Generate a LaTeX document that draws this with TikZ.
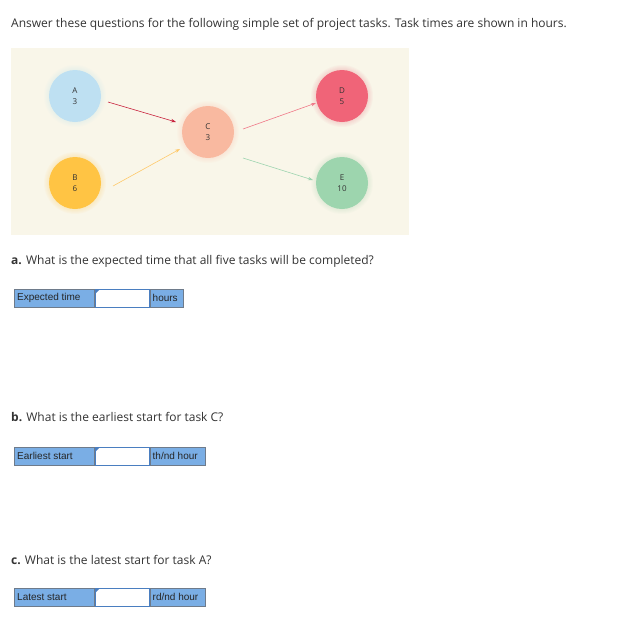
\documentclass[tikz,border=0pt]{standalone}
\usepackage{fontspec}
\setmainfont{Open Sans}
\newfontfamily\boxfont{Liberation Sans}
\usetikzlibrary{arrows.meta,calc}
\definecolor{panelbg}{HTML}{F9F6E9}
\definecolor{cA}{HTML}{BEE0F2}
\definecolor{cB}{HTML}{FFC444}
\definecolor{cC}{HTML}{F9B9A0}
\definecolor{cD}{HTML}{F06478}
\definecolor{cE}{HTML}{9DD5AE}
\definecolor{aAC}{HTML}{C8203C}
\definecolor{aBC}{HTML}{FFC96A}
\definecolor{aCD}{HTML}{F07888}
\definecolor{aCE}{HTML}{9ED4B0}
\definecolor{lblfill}{HTML}{7AAEE5}
\definecolor{lblborder}{HTML}{6E7B8B}
\definecolor{inborder}{HTML}{4A7EC0}
\definecolor{txt}{HTML}{333333}
\tikzset{
  task/.style={circle, minimum size=52pt, inner sep=0pt, fill=#1, text=black!80, font=\fontsize{8}{11}\selectfont, align=center},
  conn/.style={draw=#1, line width=0.6pt, -{Stealth[length=5pt,width=3.5pt]}},
  boxtext/.style={anchor=west, inner sep=0pt, font=\boxfont\fontsize{10}{11}\selectfont, text=black!85},
  lblbox/.style={draw=lblborder, fill=lblfill, line width=0.8pt},
  inbox/.style={draw=inborder, fill=white, line width=0.8pt},
  qtext/.style={anchor=west, inner sep=0pt, font=\fontsize{12}{14}\selectfont, text=txt}
}
\newcommand{\answerrow}[5]{% y, label, unit, unit right x, name
  \path[lblbox] (14,#1) rectangle (94,#1+18);
  \node[boxtext] (#5l) at (17,#1+9) {#2};
  \path[inbox] (95,#1) rectangle (149,#1+18);
  \fill[inborder] (96,#1+1) -- (99,#1+1) -- (96,#1+4) -- cycle;
  \path[lblbox] (150,#1) rectangle (#4,#1+18);
  \node[boxtext] (#5u) at (152.5,#1+9) {#3};
}
\begin{document}
\begin{tikzpicture}[x=1pt,y=-1pt]
\useasboundingbox (0,0) rectangle (631,622);
\fill[white] (0,0) rectangle (631,622);
% title
\node[qtext] (title) at (11,24) {Answer these questions for the following simple set of project tasks. Task times are shown in hours.};
% panel
\fill[panelbg] (11,48) rectangle (409,235);
% glows
\foreach \x/\y/\c in {75/96/cA,75/183/cB,208/132/cC,342/96/cD,342/183/cE}{
  \foreach \k in {1,...,5}{
    \fill[\c, opacity=0.045] (\x,\y) circle (26pt+\k pt);
  }
}
\node[task=cA] (A) at (75,96) {A\\3};
\node[task=cB] (B) at (75,183) {B\\6};
\node[task=cC] (C) at (208,132) {C\\3};
\node[task=cD] (D) at (342,96) {D\\5};
\node[task=cE] (E) at (342,183) {E\\10};
\draw[conn=aAC] ($(A)+(33,6)$) -- ($(C)+(-32,-10)$);
\draw[conn=aBC] ($(B)+(38,3)$) -- ($(C)+(-28,17)$);
\draw[conn=aCD] ($(C)+(35,-3)$) -- ($(D)+(-26,7)$);
\draw[conn=aCE] ($(C)+(35,26)$) -- ($(E)+(-29,-3)$);
% questions
\node[qtext] (qa) at (11,261) {\textbf{a.} What is the expected time that all five tasks will be completed?};
\answerrow{289}{Expected time}{hours}{183}{ra}
\node[qtext] (qb) at (11,417) {\textbf{b.} What is the earliest start for task C?};
\answerrow{447}{Earliest start}{th/nd hour}{205}{rb}
\node[qtext] (qc) at (11,560) {\textbf{c.} What is the latest start for task A?};
\answerrow{588}{Latest start}{rd/nd hour}{205}{rc}
\end{tikzpicture}
\end{document}
